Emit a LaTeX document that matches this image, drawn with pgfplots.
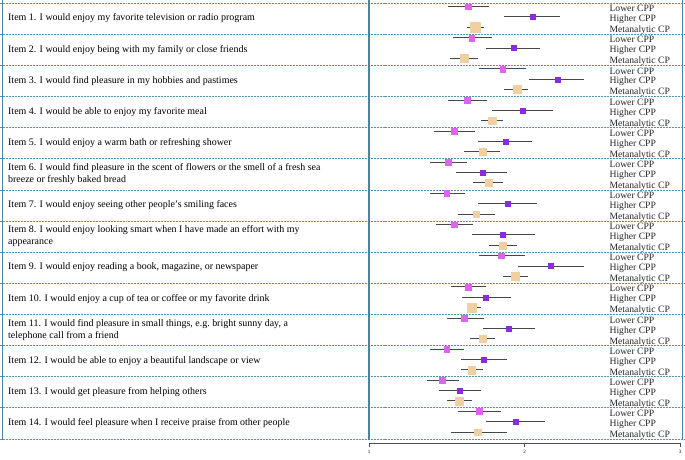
\documentclass[border=0pt]{standalone}
\usepackage{fontspec}
\setmainfont{Liberation Serif}
\usepackage{pgfplots}
\usepackage{pgfplotstable}
\pgfplotsset{compat=1.18}
\definecolor{lowc}{RGB}{222,100,240}
\definecolor{highc}{RGB}{138,43,226}
\definecolor{metac}{RGB}{240,208,160}
\definecolor{sepc}{RGB}{80,145,180}
\definecolor{vlc}{RGB}{72,132,160}
\definecolor{cic}{RGB}{70,70,70}

\pgfplotstableread{
i m lo hi
1 1.64 1.51 1.77
2 1.66 1.54 1.79
3 1.86 1.71 2.01
4 1.63 1.51 1.76
5 1.55 1.42 1.68
6 1.51 1.39 1.63
7 1.50 1.39 1.62
8 1.55 1.43 1.67
9 1.85 1.71 2.00
10 1.64 1.53 1.75
11 1.61 1.50 1.74
12 1.50 1.39 1.61
13 1.47 1.37 1.58
14 1.71 1.57 1.85
}\lowtab

\pgfplotstableread{
i m lo hi
1 2.05 1.87 2.23
2 1.93 1.75 2.10
3 2.21 2.03 2.38
4 1.99 1.79 2.18
5 1.88 1.70 2.05
6 1.73 1.56 1.89
7 1.89 1.70 2.08
8 1.86 1.66 2.07
9 2.17 1.96 2.38
10 1.75 1.60 1.91
11 1.90 1.73 2.07
12 1.74 1.59 1.89
13 1.58 1.45 1.72
14 1.94 1.75 2.13
}\hightab

\pgfplotstableread{
i m lo hi s
1 1.68 1.63 1.74 10
2 1.61 1.52 1.70 8
3 1.95 1.87 2.02 8
4 1.79 1.72 1.86 8
5 1.73 1.61 1.84 7
6 1.77 1.67 1.86 7
7 1.69 1.57 1.81 6.5
8 1.86 1.77 1.95 7
9 1.94 1.86 2.02 8
10 1.66 1.63 1.72 9
11 1.73 1.65 1.81 7
12 1.66 1.59 1.73 8
13 1.58 1.50 1.66 8
14 1.70 1.53 1.89 6.5
}\metatab

\newcommand\itemfont{\fontsize{10}{12}\selectfont}
\newcommand\labfont{\fontsize{9.7}{10}\selectfont}

\begin{document}
\begin{tikzpicture}
\begin{axis}[
  scale only axis, width=311.1bp, height=443bp,
  xmin=1, xmax=3, ymin=-443, ymax=0,
  axis x line*=bottom, axis y line=none,
  xtick={1,2,3}, ytick=\empty, tick align=outside, major tick length=4bp,
  x axis line style={black!70, line width=0.7pt},
  xtick style={black!70, line width=0.7pt},
  xticklabel style={font=\fontsize{5}{6}\selectfont},
  /pgf/number format/assume math mode=true,
  clip=false,
]
% separators
\pgfplotsinvokeforeach{0,...,14}{
  \draw[sepc, line width=0.55pt, dash pattern=on 2pt off 1pt]
    (axis cs:-1.3728,{-3-31.14*#1}) -- (axis cs:3.0315,{-3-31.14*#1});
}
% vertical lines
\draw[vlc, line width=1pt] (axis cs:-1.3594,0) -- (axis cs:-1.3594,-440);
\draw[vlc, line width=1.2pt] (axis cs:1,0) -- (axis cs:1,-440);
\draw[vlc, line width=1pt] (axis cs:3.0186,0) -- (axis cs:3.0186,-440);

% row labels
\pgfplotsinvokeforeach{1,...,14}{
  \node[anchor=west, font=\labfont, inner sep=0pt, text=black!85] at (axis cs:2.545,{-(3+31.14*(#1-1)+5.6)}) {Lower CPP};
  \node[anchor=west, font=\labfont, inner sep=0pt, text=black!85] at (axis cs:2.545,{-(3+31.14*(#1-1)+16.4)}) {Higher CPP};
  \node[anchor=west, font=\labfont, inner sep=0pt, text=black!85] at (axis cs:2.545,{-(3+31.14*(#1-1)+27.4)}) {Metanalytic CP};
}

% CI + markers
\addplot[only marks, mark=square*, mark size=2.9, mark options={draw=lowc, fill=lowc},
  error bars/.cd, x dir=both, x explicit, error mark=none,
  error bar style={cic, line width=1bp}]
  table[x=m, y expr={-(3+31.14*(\thisrow{i}-1)+3.7)},
        x error minus expr={\thisrow{m}-\thisrow{lo}},
        x error plus expr={\thisrow{hi}-\thisrow{m}}] {\lowtab};
\addplot[only marks, mark=square*, mark size=2.5, mark options={draw=highc, fill=highc},
  error bars/.cd, x dir=both, x explicit, error mark=none,
  error bar style={cic, line width=1bp}]
  table[x=m, y expr={-(3+31.14*(\thisrow{i}-1)+14)},
        x error minus expr={\thisrow{m}-\thisrow{lo}},
        x error plus expr={\thisrow{hi}-\thisrow{m}}] {\hightab};
\addplot[scatter, only marks, mark=square*,
  scatter/use mapped color={draw=metac, fill=metac},
  visualization depends on={\thisrow{s}/2 \as \perpointmarksize},
  scatter/@pre marker code/.append style={/tikz/mark size=\perpointmarksize},
  error bars/.cd, x dir=both, x explicit, error mark=none,
  error bar style={cic, line width=1bp}]
  table[x=m, y expr={-(3+31.14*(\thisrow{i}-1)+24.3)},
        x error minus expr={\thisrow{m}-\thisrow{lo}},
        x error plus expr={\thisrow{hi}-\thisrow{m}}] {\metatab};

% item texts
\node[anchor=west, align=left, font=\itemfont, inner sep=0pt] at (axis cs:-1.3215,-18.5) {Item 1. I would enjoy my favorite television or radio program};
\node[anchor=west, align=left, font=\itemfont, inner sep=0pt] at (axis cs:-1.3215,-49.64) {Item 2. I would enjoy being with my family or close friends};
\node[anchor=west, align=left, font=\itemfont, inner sep=0pt] at (axis cs:-1.3215,-80.78) {Item 3. I would find pleasure in my hobbies and pastimes};
\node[anchor=west, align=left, font=\itemfont, inner sep=0pt] at (axis cs:-1.3215,-111.92) {Item 4. I would be able to enjoy my favorite meal};
\node[anchor=west, align=left, font=\itemfont, inner sep=0pt] at (axis cs:-1.3215,-143.06) {Item 5. I would enjoy a warm bath or refreshing shower};
\node[anchor=west, align=left, font=\itemfont, inner sep=0pt] at (axis cs:-1.3215,-174.2) {Item 6. I would find pleasure in the scent of flowers or the smell of a fresh sea\\breeze or freshly baked bread};
\node[anchor=west, align=left, font=\itemfont, inner sep=0pt] at (axis cs:-1.3215,-205.34) {Item 7. I would enjoy seeing other people’s smiling faces};
\node[anchor=west, align=left, font=\itemfont, inner sep=0pt] at (axis cs:-1.3215,-236.48) {Item 8. I would enjoy looking smart when I have made an effort with my\\appearance};
\node[anchor=west, align=left, font=\itemfont, inner sep=0pt] at (axis cs:-1.3215,-267.62) {Item 9. I would enjoy reading a book, magazine, or newspaper};
\node[anchor=west, align=left, font=\itemfont, inner sep=0pt] at (axis cs:-1.3215,-298.76) {Item 10. I would enjoy a cup of tea or coffee or my favorite drink};
\node[anchor=west, align=left, font=\itemfont, inner sep=0pt] at (axis cs:-1.3215,-329.9) {Item 11. I would find pleasure in small things, e.g.\ bright sunny day, a\\telephone call from a friend};
\node[anchor=west, align=left, font=\itemfont, inner sep=0pt] at (axis cs:-1.3215,-361.04) {Item 12. I would be able to enjoy a beautiful landscape or view};
\node[anchor=west, align=left, font=\itemfont, inner sep=0pt] at (axis cs:-1.3215,-392.18) {Item 13. I would get pleasure from helping others};
\node[anchor=west, align=left, font=\itemfont, inner sep=0pt] at (axis cs:-1.3215,-423.32) {Item 14. I would feel pleasure when I receive praise from other people};

\coordinate (BL) at (axis cs:-1.3728,-460);
\coordinate (TR) at (axis cs:3.0315,0);
\end{axis}
\pgfresetboundingbox
\path[use as bounding box] (BL) rectangle (TR);
\end{tikzpicture}
\end{document}
